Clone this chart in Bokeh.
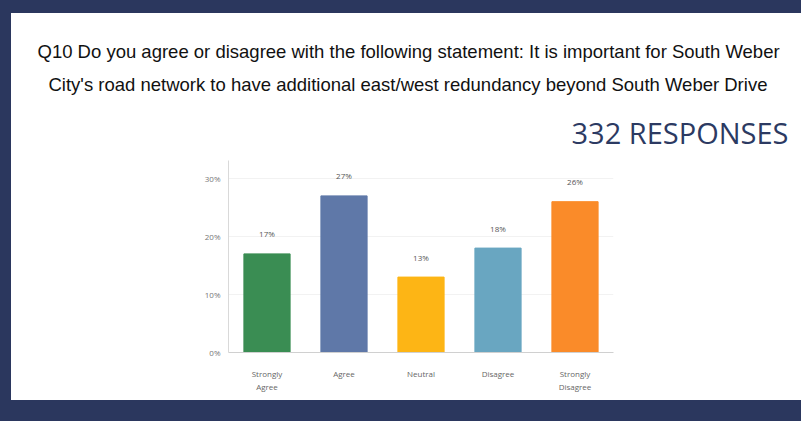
from bokeh.plotting import figure
from bokeh.models import Range1d, ColumnDataSource, FixedTicker, PrintfTickFormatter, Title
from bokeh.layouts import column
from bokeh.embed import file_html
from bokeh.resources import INLINE
from bokeh.core.properties import value

categories = ["Strongly\nAgree", "Agree", "Neutral", "Disagree", "Strongly\nDisagree"]
values = [17, 27, 13, 18, 26]
bar_colors = ["#3a8d53", "#5f78a8", "#fdb515", "#69a6c1", "#fa8b29"]
y_ticks = [0, 10, 20, 30]
title_lines = [
    "Q10 Do you agree or disagree with the following statement: It is important for South Weber",
    "City's road network to have additional east/west redundancy beyond South Weber Drive",
]
responses_text = "332 RESPONSES"

NAVY = "#2b375e"

src = ColumnDataSource(dict(cat=categories, val=values, color=bar_colors,
                            label=[f"{v}%" for v in values]))

p = figure(x_range=categories, y_range=Range1d(0, 33.1), width=790, height=387,
           output_backend="svg", toolbar_location=None,
           min_border_left=217, min_border_right=188, min_border_top=147, min_border_bottom=48)
p.margin = (13, 0, 21, 11)
p.styles = {"background-color": "white"}
p.outline_line_color = None
p.background_fill_color = "white"
p.border_fill_color = "white"

p.vbar(x="cat", top="val", width=0.6, color="color", source=src)
p.text(x="cat", y="val", text="label", y_offset=-20, text_align="center",
       text_baseline="alphabetic", text_font=value("Open Sans"), text_font_size="8px",
       text_color="#555555", source=src)

p.xgrid.grid_line_color = None
p.ygrid.grid_line_color = "#f2f2f2"
p.ygrid.ticker = FixedTicker(ticks=y_ticks)

p.yaxis.ticker = FixedTicker(ticks=y_ticks)
p.yaxis.formatter = PrintfTickFormatter(format="%d%%")
p.yaxis.major_tick_line_color = None
p.yaxis.minor_tick_line_color = None
p.yaxis.axis_line_color = "#d9d9d9"
p.yaxis.major_label_standoff = 2
p.yaxis.major_label_text_font = "Open Sans"
p.yaxis.major_label_text_font_size = "8px"
p.yaxis.major_label_text_color = "#777777"

p.xaxis.major_tick_line_color = None
p.xaxis.minor_tick_line_color = None
p.xaxis.axis_line_color = "#d0d0d0"
p.xaxis.major_label_standoff = 9
p.xaxis.major_label_text_font = "Open Sans"
p.xaxis.major_label_text_font_size = "8px"
p.xaxis.major_label_text_color = "#666666"

# titles stack outward from the frame: add the nearest one first
p.add_layout(Title(text=responses_text, align="left", offset=343, standoff=17,
                   text_font="Open Sans", text_font_size="29px",
                   text_font_style="normal", text_color="#2c3a62"), "above")
p.add_layout(Title(text=title_lines[1], align="left", offset=-180, standoff=16,
                   text_font="Liberation Sans", text_font_size="18.5px",
                   text_font_style="normal", text_color="#111111"), "above")
p.add_layout(Title(text=title_lines[0], align="left", offset=-191, standoff=3,
                   text_font="Liberation Sans", text_font_size="18.5px",
                   text_font_style="normal", text_color="#111111"), "above")

layout = column(p, styles={"background-color": NAVY})

open("out.html", "w").write(file_html(layout, INLINE))
